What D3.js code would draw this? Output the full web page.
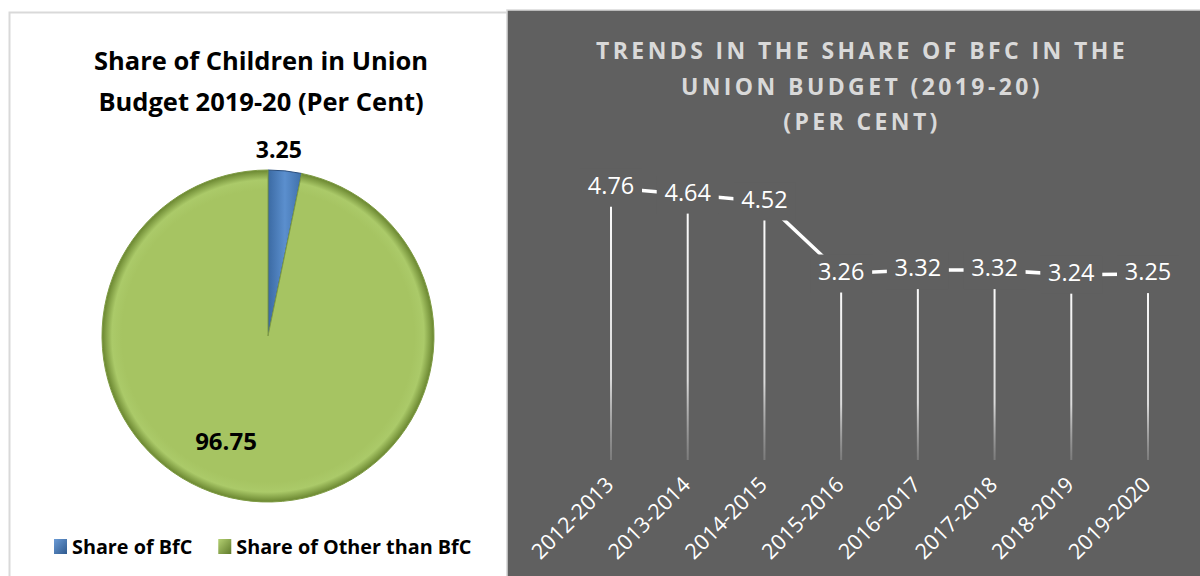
<!DOCTYPE html>
<html>
<head>
<meta charset="utf-8">
<script src="https://cdn.jsdelivr.net/npm/d3@7"></script>
<style>
  html, body { margin: 0; padding: 0; background: #fff; }
  svg { display: block; font-family: "Open Sans", "Noto Sans", sans-serif; }
</style>
</head>
<body>
<div id="chart"></div>
<script>
// pie data
const pieLabels = ["Share of BfC", "Share of Other than BfC"];
const pieValues = [3.25, 96.75];

// trend data
const years = ["2012-2013", "2013-2014", "2014-2015", "2015-2016", "2016-2017", "2017-2018", "2018-2019", "2019-2020"];
const bfcShare = [4.76, 4.64, 4.52, 3.26, 3.32, 3.32, 3.24, 3.25];

const width = 1200, height = 576;
const panelBg = "#606060";

const svg = d3.select("#chart").append("svg")
    .attr("width", width).attr("height", height);

const defs = svg.append("defs");

// bevel-ish gradients for the pie
function radial(id, mid, edge, hi) {
    const g = defs.append("radialGradient").attr("id", id)
        .attr("cx", "50%").attr("cy", "50%").attr("r", "50%");
    g.append("stop").attr("offset", "0%").attr("stop-color", mid);
    g.append("stop").attr("offset", "88%").attr("stop-color", mid);
    g.append("stop").attr("offset", "94%").attr("stop-color", hi);
    g.append("stop").attr("offset", "100%").attr("stop-color", edge);
}
radial("pieGreen", "#a6c462", "#6a8630", "#abca69");

const blueGrad = defs.append("linearGradient").attr("id", "pieBlue")
    .attr("x1", "0").attr("y1", "0").attr("x2", "1").attr("y2", "0");
blueGrad.append("stop").attr("offset", "0%").attr("stop-color", "#3b6aa3");
blueGrad.append("stop").attr("offset", "50%").attr("stop-color", "#5b8fce");
blueGrad.append("stop").attr("offset", "100%").attr("stop-color", "#3f70aa");

function legendGrad(id, light, dark) {
    const g = defs.append("linearGradient").attr("id", id)
        .attr("x1", "0").attr("y1", "0").attr("x2", "1").attr("y2", "1");
    g.append("stop").attr("offset", "0%").attr("stop-color", light);
    g.append("stop").attr("offset", "100%").attr("stop-color", dark);
}
legendGrad("legBlue", "#6b9bd6", "#2f5a8e");
legendGrad("legGreen", "#b5d173", "#5f7a2b");

const dropGrad = defs.append("linearGradient").attr("id", "dropGrad")
    .attr("x1", "0").attr("y1", "0").attr("x2", "0").attr("y2", "1");
dropGrad.append("stop").attr("offset", "0%").attr("stop-color", "#ffffff").attr("stop-opacity", 1);
dropGrad.append("stop").attr("offset", "70%").attr("stop-color", "#f0f0f0").attr("stop-opacity", 0.85);
dropGrad.append("stop").attr("offset", "100%").attr("stop-color", "#bbbbbb").attr("stop-opacity", 0.3);

// ---------- Left panel: pie ----------
svg.append("rect")
    .attr("x", 9.5).attr("y", 12.5).attr("width", 498).attr("height", 580)
    .attr("fill", "#fff").attr("stroke", "#d9d9d9").attr("stroke-width", 2);

const leftTitle = svg.append("text")
    .attr("x", 261).attr("y", 70)
    .attr("text-anchor", "middle")
    .attr("font-size", 25.5).attr("font-weight", "bold").attr("fill", "#000");
leftTitle.append("tspan").attr("x", 261).text("Share of Children in Union");
leftTitle.append("tspan").attr("x", 261).attr("dy", 41).text("Budget 2019-20 (Per Cent)");

const cx = 268, cy = 336, radius = 166;
const pie = d3.pie().sort(null).value(d => d)(pieValues);
const arc = d3.arc().innerRadius(0).outerRadius(radius);
const pieG = svg.append("g").attr("transform", `translate(${cx},${cy})`);

pieG.selectAll("path.slice")
    .data(pie)
    .join("path")
    .attr("class", "slice")
    .attr("d", arc)
    .attr("fill", (d, i) => i === 0 ? "url(#pieBlue)" : "url(#pieGreen)")
    .attr("stroke", (d, i) => i === 0 ? "#2b4f7e" : "#7f9c44")
    .attr("stroke-width", 1);

// labels: first outside end, second inside
const outerLabelArc = d3.arc().innerRadius(radius + 19).outerRadius(radius + 19);
const innerLabelArc = d3.arc().innerRadius(radius * 0.71).outerRadius(radius * 0.71);
pieG.append("text")
    .attr("transform", `translate(${outerLabelArc.centroid(pie[0])})`)
    .attr("dx", -8)
    .attr("text-anchor", "middle").attr("dominant-baseline", "middle")
    .attr("font-size", 23).attr("font-weight", "bold")
    .text(pieValues[0]);
pieG.append("text")
    .attr("transform", `translate(${innerLabelArc.centroid(pie[1])})`)
    .attr("dx", -30).attr("dy", -10)
    .attr("text-anchor", "middle").attr("dominant-baseline", "middle")
    .attr("font-size", 24).attr("font-weight", "bold")
    .text(pieValues[1]);

// legend
const legend = svg.append("g").attr("transform", "translate(54,539)");
let lx = 0;
pieLabels.forEach((label, i) => {
    const item = legend.append("g").attr("transform", `translate(${lx},0)`);
    item.append("rect").attr("width", 13).attr("height", 15)
        .attr("fill", i === 0 ? "url(#legBlue)" : "url(#legGreen)");
    const t = item.append("text").attr("x", 18).attr("y", 15)
        .attr("font-size", 19.8).attr("font-weight", "bold").text(label);
    lx += 18 + t.node().getComputedTextLength() + 26;
});

// ---------- Right panel: trend ----------
svg.append("rect")
    .attr("x", 507).attr("y", 10).attr("width", 700).attr("height", 580)
    .attr("fill", panelBg).attr("stroke", "#d9d9d9").attr("stroke-width", 1.5);

const rightTitle = svg.append("text")
    .attr("text-anchor", "middle")
    .attr("font-size", 23).attr("font-weight", "bold")
    .attr("letter-spacing", 3.4)
    .attr("fill", "#d9d9d9");
["TRENDS IN THE SHARE OF BFC IN THE", "UNION BUDGET (2019-20)", "(PER CENT)"].forEach((line, i) => {
    rightTitle.append("tspan").attr("x", 862).attr("y", 59 + i * 35.5).text(line);
});

const x = d3.scalePoint().domain(years).range([611, 1148]);
const y = d3.scaleLinear().domain([0, 5]).range([460, 174]);

// drop lines (rects so the vertical gradient applies)
svg.append("g").selectAll("rect")
    .data(bfcShare)
    .join("rect")
    .attr("x", (d, i) => x(years[i]) - 1).attr("width", 2)
    .attr("y", d => y(d)).attr("height", d => y(0) - y(d))
    .attr("fill", "url(#dropGrad)");

// line
const line = d3.line().x((d, i) => x(years[i])).y(d => y(d));
svg.append("path")
    .datum(bfcShare)
    .attr("d", line)
    .attr("fill", "none")
    .attr("stroke", "#fff")
    .attr("stroke-width", 3.5);

// data labels with background boxes hiding the line
const labelG = svg.append("g").selectAll("g")
    .data(bfcShare)
    .join("g")
    .attr("transform", (d, i) => `translate(${x(years[i])},${y(d)})`);
labelG.append("rect")
    .attr("x", -31).attr("y", -19).attr("width", 62).attr("height", 38)
    .attr("fill", panelBg);
labelG.append("text")
    .attr("text-anchor", "middle").attr("dominant-baseline", "middle")
    .attr("font-size", 23.5).attr("fill", "#fff")
    .text(d => d.toFixed(2));

// category labels
svg.append("g").selectAll("text")
    .data(years)
    .join("text")
    .attr("transform", d => `translate(${x(d) + 4},${486}) rotate(-45)`)
    .attr("text-anchor", "end")
    .attr("font-size", 21.5).attr("fill", "#fff")
    .text(d => d);
</script>
</body>
</html>
